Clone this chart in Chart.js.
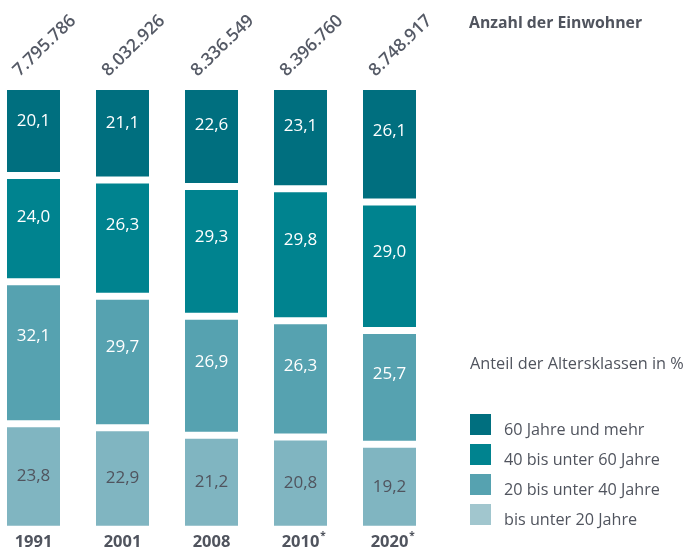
<!doctype html>
<html lang="de">
  <head>
    <meta charset="utf-8">
    <title>Bevölkerung nach Altersklassen</title>
    <style>
      * {
        margin: 0;
        padding: 0;
      }
      body {
        width: 683px;
        height: 549px;
        position: relative;
        overflow: hidden;
        background: #fff;
        font-family: "Open Sans", "Noto Sans", sans-serif;
        color: #50545e;
      }
      .chartBox {
        position: absolute;
        left: -11px;
        top: 0;
        width: 694px;
        height: 549px;
      }
      .head {
        position: absolute;
        left: 469px;
        top: 14px;
        font-size: 15.8px;
        line-height: 16px;
        font-weight: 700;
        white-space: nowrap;
      }
      .sub {
        position: absolute;
        left: 470px;
        top: 355px;
        font-size: 16.3px;
        line-height: 16px;
        white-space: nowrap;
      }
      .legend {
        position: absolute;
        left: 470px;
        top: 414px;
        list-style: none;
        font-size: 16.2px;
        line-height: 16px;
      }
      .legend li {
        position: relative;
        height: 30px;
        padding-left: 34px;
        white-space: nowrap;
      }
      .legend li span.box {
        position: absolute;
        left: 0;
        top: 0;
        width: 21px;
        height: 21px;
      }
      .legend li span.txt {
        display: block;
        padding-top: 7px;
      }
    </style>
  </head>
  <body>
    <div class="chartBox"><canvas id="myChart"></canvas></div>
    <div class="head">Anzahl der Einwohner</div>
    <div class="sub">Anteil der Altersklassen in %</div>
    <ul class="legend" id="legend"></ul>

    <script src="https://cdn.jsdelivr.net/npm/chart.js/dist/chart.umd.min.js"></script>
    <script>
// data
const years = ['1991', '2001', '2008', '2010', '2020'];
const yearNotes = ['', '', '', '*', '*'];
const population = [7795786, 8032926, 8336549, 8396760, 8748917];

const under20 = [23.8, 22.9, 21.2, 20.8, 19.2];
const age20to40 = [32.1, 29.7, 26.9, 26.3, 25.7];
const age40to60 = [24.0, 26.3, 29.3, 29.8, 29.0];
const age60plus = [20.1, 21.1, 22.6, 23.1, 26.1];

const groupNames = ['bis unter 20 Jahre', '20 bis unter 40 Jahre', '40 bis unter 60 Jahre', '60 Jahre und mehr'];
const barColors = ['#80b5c1', '#56a2b0', '#00838f', '#006f7f'];
const legendColors = ['#a1c6ce', '#56a2b0', '#00838f', '#006f7f'];

const textGrey = '#50545e';
const gap = 3.5; // half of the white gap between stacked segments

function thousands(n) {
  return String(n).replace(/\B(?=(\d{3})+(?!\d))/g, '.');
}
function comma(v) {
  return v.toFixed(1).replace('.', ',');
}

// legend, top group first
const legend = document.getElementById('legend');
for (let i = groupNames.length - 1; i >= 0; i--) {
  const li = document.createElement('li');
  li.innerHTML = '<span class="box" style="background:' + legendColors[i] + '"></span><span class="txt">' + groupNames[i] + '</span>';
  legend.appendChild(li);
}

const series = [under20, age20to40, age40to60, age60plus];

const data = {
  labels: years,
  datasets: series.map((vals, i) => ({
    label: groupNames[i],
    data: vals,
    backgroundColor: barColors[i],
    borderColor: '#ffffff',
    borderWidth: {top: gap, bottom: gap, left: 0, right: 0},
    borderSkipped: false,
    categoryPercentage: 1,
    barPercentage: 0.596
  }))
};

// values inside the segments, population above, years below
const barText = {
  id: 'barText',
  afterDatasetsDraw(chart) {
    const {ctx} = chart;
    ctx.save();
    ctx.textAlign = 'center';
    ctx.textBaseline = 'middle';
    ctx.font = '17px "Open Sans"';
    chart.data.datasets.forEach((ds, i) => {
      const meta = chart.getDatasetMeta(i);
      meta.data.forEach((bar, j) => {
        const top = Math.min(bar.y, bar.base) + gap;
        const bottom = Math.max(bar.y, bar.base) - gap;
        const frac = i === 0 ? 0.5 : 0.38;
        ctx.fillStyle = i === 0 ? textGrey : '#ffffff';
        ctx.fillText(comma(ds.data[j]), bar.x, top + (bottom - top) * frac);
      });
    });

    const first = chart.getDatasetMeta(0).data;
    first.forEach((bar, j) => {
      // year with optional footnote mark
      ctx.font = 'bold 16.5px "Open Sans"';
      ctx.fillStyle = textGrey;
      ctx.textBaseline = 'alphabetic';
      ctx.textAlign = 'center';
      ctx.fillText(years[j], bar.x, 547);
      if (yearNotes[j]) {
        const w = ctx.measureText(years[j]).width;
        ctx.font = 'bold 10px "Open Sans"';
        ctx.textAlign = 'left';
        ctx.fillText(yearNotes[j], bar.x + w / 2 + 1, 539);
      }

      // rotated population count
      ctx.save();
      ctx.translate(bar.x - 14, 77);
      ctx.rotate(-44 * Math.PI / 180);
      ctx.font = '600 17.5px "Open Sans"';
      ctx.fillStyle = '#555a66';
      ctx.textAlign = 'left';
      ctx.fillText(thousands(population[j]), 0, 0);
      ctx.restore();
    });
    ctx.restore();
  }
};

const config = {
  type: 'bar',
  data,
  options: {
    responsive: true,
    maintainAspectRatio: false,
    animation: false,
    layout: {
      padding: {left: 0, right: 249, top: 86.5, bottom: 19.8}
    },
    scales: {
      x: {stacked: true, display: false},
      y: {stacked: true, display: false, min: 0, max: 100}
    },
    plugins: {
      legend: {display: false},
      tooltip: {enabled: false}
    }
  },
  plugins: [barText]
};

const myChart = new Chart(document.getElementById('myChart'), config);
    </script>
  </body>
</html>
